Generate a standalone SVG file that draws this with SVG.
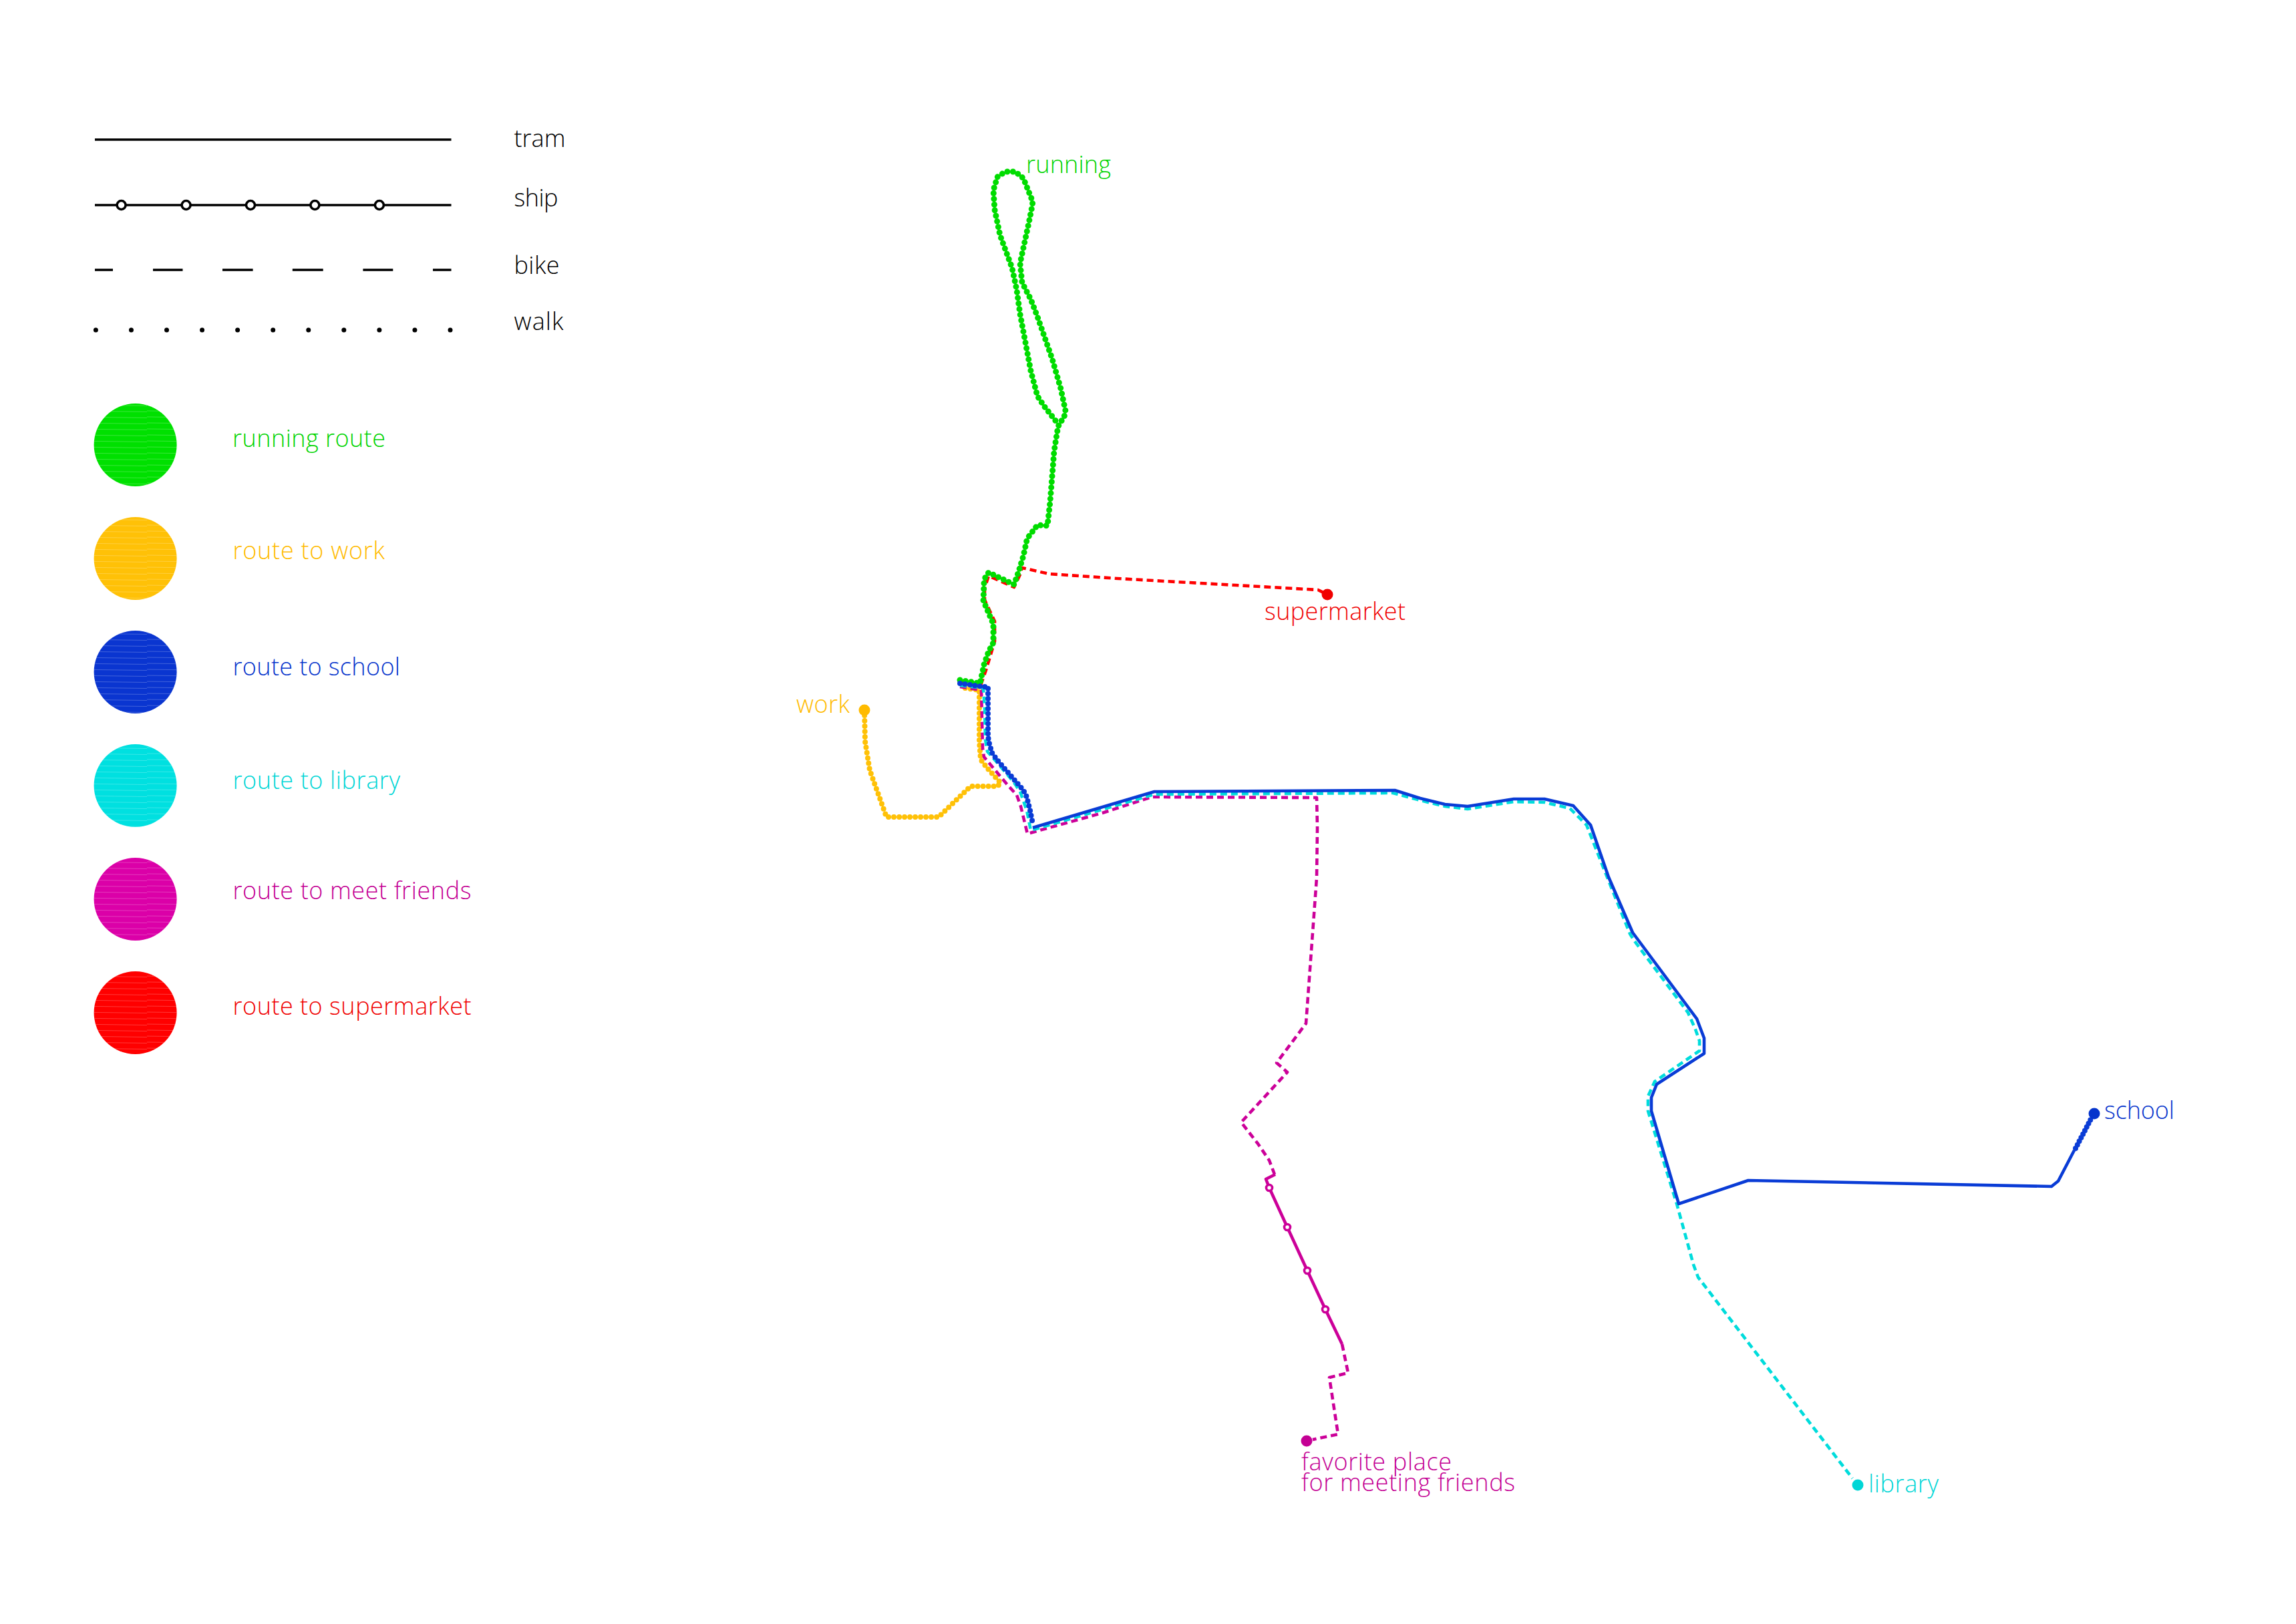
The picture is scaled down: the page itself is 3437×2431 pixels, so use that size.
<svg xmlns="http://www.w3.org/2000/svg" width="3437" height="2431" viewBox="0 0 3437 2431">
<style>
text{font-family:"Open Sans","Noto Sans","Liberation Sans",sans-serif;font-weight:350;font-size:36px}
.k{fill:#000;font-weight:350}
.g{fill:#00d400}.y{fill:#ffbb00}.b{fill:#0534cc}.c{fill:#00d6d6}.m{fill:#c40094}.r{fill:#f00000}
.l{fill:none;stroke-linejoin:round}
.blk{stroke:#000;stroke-width:3.6}
.dot{stroke-linecap:round}
.dash{stroke-width:4.6;stroke-dasharray:10 6}
.sol{stroke-width:4.6}
.st-g{stroke:#00dc00}.st-y{stroke:#ffc107}.st-b{stroke:#0a3cd6}.st-c{stroke:#00dcdc}.st-m{stroke:#cc0099}.st-r{stroke:#ff0000}
.stop{fill:#fff;stroke-width:3.6}
</style>
<defs>
<pattern id="hatch" width="110" height="9" patternUnits="userSpaceOnUse"><path d="M0 3L110 4.5" stroke="#fff" stroke-opacity=".22" stroke-width="1" fill="none"/></pattern>
</defs>
<rect width="3437" height="2431" fill="#fff"/>

<g id="legend-tram"><line class="l blk" x1="142" y1="209" x2="675.500" y2="209"/><text class="k" x="769.500" y="220" textLength="77">tram</text></g>
<g id="legend-ship"><line class="l blk" x1="142" y1="307" x2="675.500" y2="307"/>
<g class="stop" stroke="#000"><circle cx="181.600" cy="307" r="6.500"/><circle cx="278.600" cy="307" r="6.500"/><circle cx="375" cy="307" r="6.500"/><circle cx="471.400" cy="307" r="6.500"/><circle cx="567.900" cy="307" r="6.500"/></g>
<text class="k" x="769.500" y="309" textLength="66">ship</text></g>
<g id="legend-bike"><line class="l blk" x1="142" y1="404" x2="675.500" y2="404" stroke-dasharray="27 60 44.500 59.500 45.600 59.200 45.900 59.700 44.900 59.700 27.500"/><text class="k" x="769.500" y="410" textLength="68">bike</text></g>
<g id="legend-walk"><line class="l blk dot" x1="143.400" y1="494" x2="675" y2="494" style="stroke-width:7" stroke-dasharray="0 53.060"/><text class="k" x="769.500" y="494" textLength="74">walk</text></g>

<g id="legend-running"><circle cx="202.600" cy="666" r="62" fill="#00e000"/><circle cx="202.600" cy="666" r="62" fill="url(#hatch)"/><text class="g" x="348" y="669" textLength="229">running route</text></g>
<g id="legend-work"><circle cx="202.600" cy="836" r="62" fill="#ffc107"/><circle cx="202.600" cy="836" r="62" fill="url(#hatch)"/><text class="y" x="348.500" y="837" textLength="227.500">route to work</text></g>
<g id="legend-school"><circle cx="202.600" cy="1006" r="62" fill="#0a35d0"/><circle cx="202.600" cy="1006" r="62" fill="url(#hatch)"/><text class="b" x="348.500" y="1011" textLength="250.500">route to school</text></g>
<g id="legend-library"><circle cx="202.600" cy="1176" r="62" fill="#00e0e0"/><circle cx="202.600" cy="1176" r="62" fill="url(#hatch)"/><text class="c" x="348.500" y="1181" textLength="250.500">route to library</text></g>
<g id="legend-friends"><circle cx="202.600" cy="1346" r="62" fill="#db00a8"/><circle cx="202.600" cy="1346" r="62" fill="url(#hatch)"/><text class="m" x="348.500" y="1346" textLength="357">route to meet friends</text></g>
<g id="legend-supermarket"><circle cx="202.600" cy="1516" r="62" fill="#ff0000"/><circle cx="202.600" cy="1516" r="62" fill="url(#hatch)"/><text class="r" x="348.500" y="1519" textLength="357">route to supermarket</text></g>

<g id="connectors">
<path id="route-supermarket" class="l dash st-r" d="M1437 1021L1468 1026L1476 1003L1489 960L1489 930L1474 898L1474 880L1480 862L1518 879L1527 860L1530 850L1570 859L1673 866L1850 876L1973 883L1987 890"/>
<path id="route-running" class="l dot st-g" style="stroke-width:9" stroke-dasharray="0 8.500" d="M1437 1018L1467 1023L1473 995L1480 975L1487 962L1487 943L1487 934L1480 918L1472 899L1473 873L1475 864L1480 857L1518 875L1525 855L1532 832L1537 809L1540 803L1553 786L1568 787L1572 751L1578 675L1583 644L1585 636L1593 624L1595 615L1588 582L1575 537L1553 474L1543 448L1530 423L1527 394L1540 334L1545 309L1546 302L1532 267L1520 257L1505 257L1493 265L1487 285L1489 314L1497 352L1515 401L1522 434L1527 470L1543 555L1553 593L1563 608L1585 636"/>
<path id="route-work" class="l dot st-y" style="stroke-width:8" stroke-dasharray="0 8" d="M1294 1063L1295 1110L1302 1153L1327 1223L1405 1223L1453 1177L1493 1177L1498 1172L1478 1150L1468 1137L1466 1110L1466 1033L1437 1029"/>
<path id="route-friends-a" class="l dash st-m" d="M1437 1028L1469 1033L1471 1120L1473 1133L1510 1177L1522 1190L1528 1207L1538 1248L1650 1217L1724 1193L1971 1194L1972 1239L1971 1314L1955 1532L1911 1591L1927 1605L1858 1680L1883 1712L1900 1737L1908 1758"/>
<path id="route-friends-ship" class="l sol st-m" d="M1909 1758L1895 1765L1900 1778L1927 1837L1957 1902L1984 1960L2009 2012"/>
<g id="route-friends-stops" class="stop st-m"><circle cx="1900" cy="1778" r="4.500"/><circle cx="1927" cy="1837" r="4.500"/><circle cx="1957" cy="1902" r="4.500"/><circle cx="1984" cy="1960" r="4.500"/></g>
<path id="route-friends-b" class="l dash st-m" d="M2009 2012L2018 2055L1990 2062L2003 2147L1965 2155"/>
<path id="route-library" class="l dash st-c" d="M1437 1026L1472 1030L1474 1060L1475 1107L1478 1125L1487 1135L1517 1170L1527 1185L1537 1213L1543 1243L1728 1189L2085 1187L2126 1198L2163 1207L2197 1211L2266 1200L2312 1201L2350 1210L2375 1235L2403 1306L2440 1398L2447 1409L2527 1516L2538 1541L2544 1558L2544 1573L2477 1619L2467 1641L2467 1663L2510 1802L2535 1893L2542 1912L2773 2213"/>
<path id="route-school-walk-a" class="l dot st-b" style="stroke-width:8" stroke-dasharray="0 7.500" d="M1437 1023L1472 1028L1479 1028L1479 1103L1481 1113L1485 1127L1493 1138L1532 1183L1537 1193L1542 1213L1546 1233"/>
<path id="route-school-tram" class="l sol st-b" d="M1546 1239L1728 1185L2088 1183L2126 1195L2163 1204L2197 1207L2266 1196L2312 1196L2355 1206L2381 1235L2408 1313L2444 1396L2540 1525L2551 1554L2551 1577L2480 1623L2472 1643L2472 1663L2513 1802L2617 1767L3071 1776L3081 1768L3105 1722"/>
<path id="route-school-walk-b" class="l dot st-b" style="stroke-width:8" stroke-dasharray="0 6" d="M3107 1719L3130 1675"/>
</g>

<g id="node-running"><text class="g" x="1536" y="259" textLength="127">running</text></g>
<g id="node-supermarket"><circle class="r" cx="1987" cy="890" r="8.500"/><text class="r" x="1893" y="928" textLength="211">supermarket</text></g>
<g id="node-work"><circle class="y" cx="1294" cy="1063" r="8.500"/><text class="y" x="1192" y="1067" textLength="80">work</text></g>
<g id="node-school"><circle class="b" cx="3135" cy="1667" r="8.500"/><text class="b" x="3150" y="1675" textLength="105">school</text></g>
<g id="node-library"><circle class="c" cx="2781" cy="2223" r="8.500"/><text class="c" x="2797" y="2234" textLength="105">library</text></g>
<g id="node-friends"><circle class="m" cx="1956" cy="2157" r="8.500"/><text class="m" x="1948" y="2201" textLength="225" font-size="35">favorite place</text><text class="m" x="1948" y="2232" textLength="320">for meeting friends</text></g>
</svg>
